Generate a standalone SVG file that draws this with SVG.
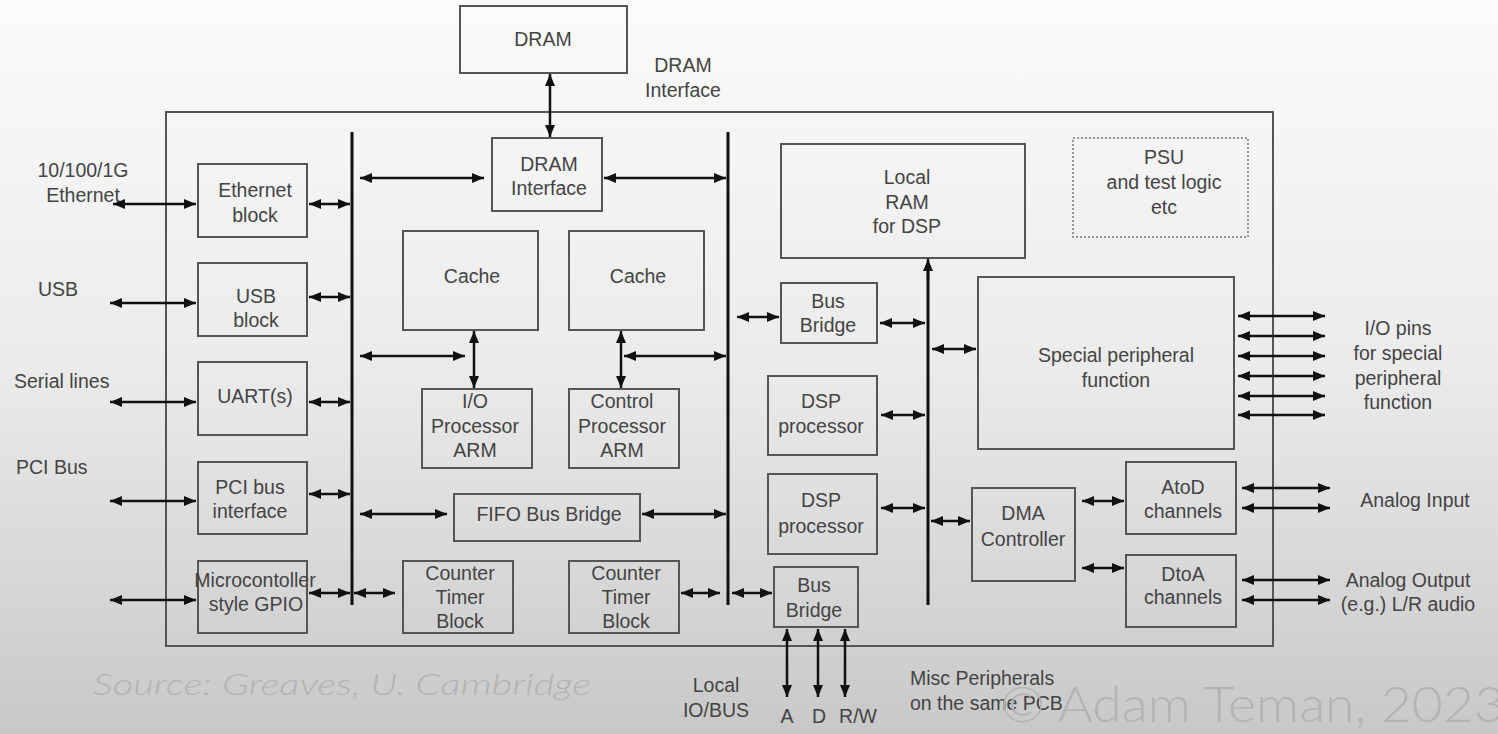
<svg xmlns="http://www.w3.org/2000/svg" width="1498" height="734" viewBox="0 0 1498 734">
<defs>
<linearGradient id="bg" x1="0" y1="0" x2="0" y2="1">
<stop offset="0" stop-color="#fbfbfb"/>
<stop offset="0.5" stop-color="#ebebeb"/>
<stop offset="1" stop-color="#c8c8c8"/>
</linearGradient>
<marker id="ah" viewBox="0 0 12 10" refX="12" refY="5" markerWidth="12" markerHeight="10" markerUnits="userSpaceOnUse" orient="auto-start-reverse">
<path d="M0,0 L12,5 L0,10 z" fill="#111"/>
</marker>
<style>
.box{fill:none;stroke:#555;stroke-width:2}
.dot{fill:none;stroke:#777;stroke-width:1.5;stroke-dasharray:2 2}
.t{font-family:"Liberation Sans",Arial,sans-serif;font-size:19.5px;fill:#444;text-anchor:middle}
.ts{font-family:"Liberation Sans",Arial,sans-serif;font-size:19.5px;fill:#444}
.bus{stroke:#111;stroke-width:3;fill:none}
.a{stroke:#111;stroke-width:2.5;fill:none;marker-start:url(#ah);marker-end:url(#ah)}
.a1{stroke:#111;stroke-width:2.5;fill:none;marker-end:url(#ah)}
.wm{font-family:Lato,"Open Sans","Liberation Sans",sans-serif;font-weight:300;fill:#b3b3b3}
</style>
</defs>
<rect x="0" y="0" width="1498" height="734" fill="url(#bg)"/>

<g id="chip"><rect class="box" x="166" y="112" width="1107" height="534"/></g>

<g id="dram"><rect class="box" x="460" y="6" width="167" height="67"/><text class="t" x="543" y="46">DRAM</text></g>
<g id="dram-label"><text class="t" x="683" y="72">DRAM</text><text class="t" x="683" y="97">Interface</text></g>
<g id="dram-if"><rect class="box" x="492" y="138" width="110" height="73"/><text class="t" x="549" y="171">DRAM</text><text class="t" x="549" y="195">Interface</text></g>
<g id="cache1"><rect class="box" x="403" y="231" width="135" height="99"/><text class="t" x="472" y="283">Cache</text></g>
<g id="cache2"><rect class="box" x="569" y="231" width="135" height="99"/><text class="t" x="638" y="283">Cache</text></g>
<g id="io-proc"><rect class="box" x="422" y="389" width="110" height="79"/><text class="t" x="475" y="408">I/O</text><text class="t" x="475" y="433">Processor</text><text class="t" x="475" y="457">ARM</text></g>
<g id="ctrl-proc"><rect class="box" x="569" y="389" width="110" height="79"/><text class="t" x="622" y="408">Control</text><text class="t" x="622" y="433">Processor</text><text class="t" x="622" y="457">ARM</text></g>
<g id="fifo"><rect class="box" x="454" y="494" width="186" height="47"/><text class="t" x="549" y="521">FIFO Bus Bridge</text></g>
<g id="ctr1"><rect class="box" x="403" y="561" width="110" height="72"/><text class="t" x="460" y="580">Counter</text><text class="t" x="460" y="604">Timer</text><text class="t" x="460" y="628">Block</text></g>
<g id="ctr2"><rect class="box" x="569" y="561" width="110" height="72"/><text class="t" x="626" y="580">Counter</text><text class="t" x="626" y="604">Timer</text><text class="t" x="626" y="628">Block</text></g>

<g id="eth"><rect class="box" x="198" y="164" width="109" height="73"/><text class="t" x="255" y="197">Ethernet</text><text class="t" x="255" y="222">block</text></g>
<g id="usb"><rect class="box" x="198" y="263" width="109" height="73"/><text class="t" x="256" y="303">USB</text><text class="t" x="256" y="327">block</text></g>
<g id="uart"><rect class="box" x="198" y="362" width="109" height="73"/><text class="t" x="255" y="403">UART(s)</text></g>
<g id="pci"><rect class="box" x="198" y="462" width="109" height="72"/><text class="t" x="250" y="494">PCI bus</text><text class="t" x="250" y="518">interface</text></g>
<g id="gpio"><rect class="box" x="198" y="561" width="109" height="72"/><text class="t" x="255" y="587">Microcontoller</text><text class="t" x="256" y="611">style GPIO</text></g>

<g id="left-labels">
<text class="t" x="83" y="177">10/100/1G</text><text class="t" x="83" y="202">Ethernet</text>
<text class="ts" x="38" y="296">USB</text>
<text class="ts" x="14" y="388">Serial lines</text>
<text class="ts" x="16" y="474">PCI Bus</text>
</g>

<g id="local-ram"><rect class="box" x="781" y="144" width="244" height="114"/><text class="t" x="907" y="184">Local</text><text class="t" x="907" y="209">RAM</text><text class="t" x="907" y="233">for DSP</text></g>
<g id="psu"><rect class="dot" x="1073" y="138" width="175" height="99"/><text class="t" x="1164" y="164">PSU</text><text class="t" x="1164" y="189">and test logic</text><text class="t" x="1164" y="214">etc</text></g>
<g id="bb-top"><rect class="box" x="781" y="283" width="96" height="60"/><text class="t" x="828" y="308">Bus</text><text class="t" x="828" y="332">Bridge</text></g>
<g id="spf"><rect class="box" x="978" y="277" width="256" height="172"/><text class="t" x="1116" y="362">Special peripheral</text><text class="t" x="1116" y="387">function</text></g>
<g id="dsp1"><rect class="box" x="768" y="376" width="109" height="79"/><text class="t" x="821" y="408">DSP</text><text class="t" x="821" y="433">processor</text></g>
<g id="dsp2"><rect class="box" x="768" y="474" width="109" height="80"/><text class="t" x="821" y="507">DSP</text><text class="t" x="821" y="533">processor</text></g>
<g id="dma"><rect class="box" x="972" y="488" width="103" height="93"/><text class="t" x="1023" y="520">DMA</text><text class="t" x="1023" y="546">Controller</text></g>
<g id="bb-bot"><rect class="box" x="774" y="567" width="84" height="60"/><text class="t" x="814" y="592">Bus</text><text class="t" x="814" y="617">Bridge</text></g>
<g id="atod"><rect class="box" x="1126" y="462" width="110" height="72"/><text class="t" x="1183" y="494">AtoD</text><text class="t" x="1183" y="518">channels</text></g>
<g id="dtoa"><rect class="box" x="1126" y="555" width="110" height="72"/><text class="t" x="1183" y="581">DtoA</text><text class="t" x="1183" y="604">channels</text></g>

<g id="right-labels">
<text class="t" x="1398" y="335">I/O pins</text><text class="t" x="1398" y="360">for special</text><text class="t" x="1398" y="385">peripheral</text><text class="t" x="1398" y="409">function</text>
<text class="t" x="1415" y="507">Analog Input</text>
<text class="t" x="1408" y="587">Analog Output</text><text class="t" x="1408" y="611">(e.g.) L/R audio</text>
</g>

<g id="bottom-labels">
<text class="t" x="716" y="692">Local</text><text class="t" x="716" y="717">IO/BUS</text>
<text class="t" x="787" y="723">A</text><text class="t" x="819" y="723">D</text><text class="t" x="858" y="723">R/W</text>
<text class="ts" x="910" y="685">Misc Peripherals</text><text class="ts" x="910" y="710">on the same PCB</text>
</g>

<g id="connectors">
<line class="bus" x1="352" y1="132" x2="352" y2="605"/>
<line class="bus" x1="728" y1="132" x2="728" y2="605"/>
<line class="a" x1="550" y1="74" x2="550" y2="137"/>
<line class="a" x1="360" y1="178" x2="484" y2="178"/>
<line class="a" x1="604" y1="178" x2="726" y2="178"/>
<line class="a" x1="474" y1="331" x2="474" y2="388"/>
<line class="a" x1="621" y1="331" x2="621" y2="388"/>
<line class="a" x1="360" y1="356" x2="465" y2="356"/>
<line class="a" x1="624" y1="356" x2="726" y2="356"/>
<line class="a" x1="360" y1="514" x2="447" y2="514"/>
<line class="a" x1="642" y1="514" x2="726" y2="514"/>
<line class="a" x1="354" y1="593" x2="395" y2="593"/>
<line class="a" x1="681" y1="593" x2="720" y2="593"/>
<line class="a" x1="732" y1="593" x2="772" y2="593"/>
<line class="a" x1="113" y1="204" x2="196" y2="204"/>
<line class="a" x1="110" y1="303" x2="196" y2="303"/>
<line class="a" x1="110" y1="402" x2="196" y2="402"/>
<line class="a" x1="110" y1="501" x2="196" y2="501"/>
<line class="a" x1="110" y1="600" x2="196" y2="600"/>
<line class="a" x1="309" y1="204" x2="350" y2="204"/>
<line class="a" x1="309" y1="297" x2="350" y2="297"/>
<line class="a" x1="309" y1="402" x2="350" y2="402"/>
<line class="a" x1="309" y1="494" x2="350" y2="494"/>
<line class="a" x1="309" y1="593" x2="350" y2="593"/>
<line class="a" x1="737" y1="317" x2="779" y2="317"/>
<line class="bus" x1="928" y1="605" x2="928" y2="268"/>
<line class="a1" x1="928" y1="280" x2="928" y2="259"/>
<line class="a" x1="880" y1="323" x2="925" y2="323"/>
<line class="a" x1="932" y1="349" x2="976" y2="349"/>
<line class="a" x1="881" y1="415" x2="925" y2="415"/>
<line class="a" x1="881" y1="508" x2="925" y2="508"/>
<line class="a" x1="931" y1="521" x2="970" y2="521"/>
<line class="a" x1="1082" y1="501" x2="1124" y2="501"/>
<line class="a" x1="1082" y1="568" x2="1124" y2="568"/>
<line class="a" x1="1238" y1="316" x2="1325" y2="316"/>
<line class="a" x1="1238" y1="336" x2="1325" y2="336"/>
<line class="a" x1="1238" y1="356" x2="1325" y2="356"/>
<line class="a" x1="1238" y1="376" x2="1325" y2="376"/>
<line class="a" x1="1238" y1="396" x2="1325" y2="396"/>
<line class="a" x1="1238" y1="415" x2="1325" y2="415"/>
<line class="a" x1="1242" y1="488" x2="1330" y2="488"/>
<line class="a" x1="1242" y1="508" x2="1330" y2="508"/>
<line class="a" x1="1242" y1="580" x2="1330" y2="580"/>
<line class="a" x1="1242" y1="600" x2="1330" y2="600"/>
<line class="a" x1="787" y1="629" x2="787" y2="697"/>
<line class="a" x1="818" y1="629" x2="818" y2="697"/>
<line class="a" x1="845" y1="629" x2="845" y2="697"/>
</g>

<g id="credits">
<text class="wm" x="93" y="695" font-size="30" font-style="italic" textLength="498" lengthAdjust="spacingAndGlyphs">Source: Greaves, U. Cambridge</text>
<text class="wm" x="1000" y="722" font-size="50" textLength="505" lengthAdjust="spacingAndGlyphs">© Adam Teman, 2023</text>
</g>
</svg>
